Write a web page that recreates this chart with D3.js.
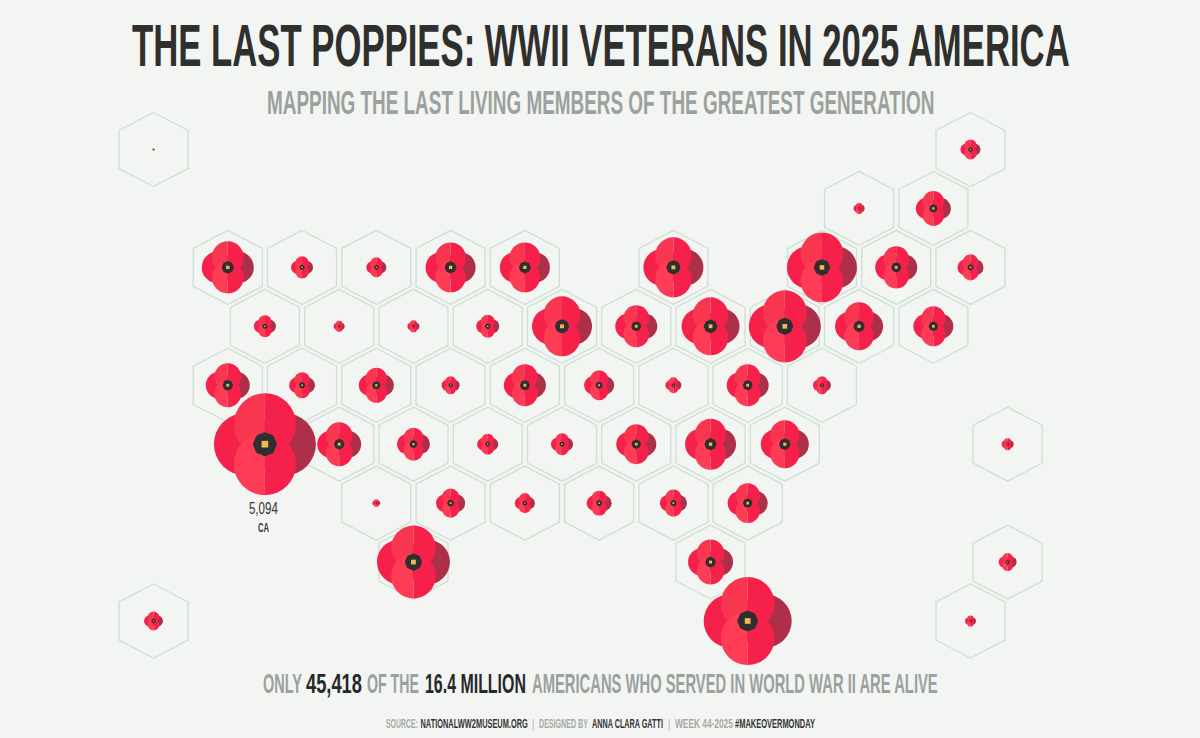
<!DOCTYPE html>
<html>
<head>
    <title>The Last Poppies</title>
    <style>
        body { margin: 0; background: #f3f5f2; }
        svg { display: block; }
        text { font-family: "Liberation Sans Narrow", "Liberation Sans", Arial, sans-serif; font-weight: 700; }
    </style>
</head>
<body>
    <svg id="chart" width="1200" height="738"></svg>
    <script src="https://d3js.org/d3.v7.min.js"></script>
    <script>
        // Tile map: one list per row of the hex grid, null = empty cell
        const stateRows = [
            ["AK", null, null, null, null, null, null, null, null, null, null, "ME"],
            [null, null, null, null, null, null, null, null, null, "VT", "NH"],
            [null, "WA", "ID", "MT", "ND", "MN", null, "MI", null, "NY", "MA", "RI"],
            [null, "OR", "NV", "WY", "SD", "WI", "IN", "OH", "PA", "NJ", "CT"],
            [null, "IL", "UT", "CO", "NE", "IA", "KY", "WV", "VA", "MD"],
            [null, "CA", "AZ", "NM", "KS", "MO", "TN", "NC", "SC", null, null, "PR"],
            [null, null, null, "DC", "OK", "AR", "LA", "MS", "AL"],
            [null, null, null, "TX", null, null, null, "GA", null, null, null, "DE"],
            ["HI", null, null, null, null, null, null, null, "FL", null, null, "VI"]
        ];

        // Living veterans, estimated from the poppy sizes, same shape as stateRows
        const veteranRows = [
            [3, null, null, null, null, null, null, null, null, null, null, 196],
            [null, null, null, null, null, null, null, null, null, 59, 600],
            [null, 1324, 237, 196, 1224, 1224, null, 1763, null, 2399, 864, 331],
            [null, 237, 59, 70, 259, 1763, 864, 1647, 2538, 1128, 783],
            [null, 945, 331, 600, 159, 864, 441, 125, 864, 159],
            [null, 5094, 945, 533, 216, 237, 783, 1274, 1128, null, null, 70],
            [null, null, null, 31, 412, 196, 306, 357, 783],
            [null, null, null, 2609, null, null, null, 991, null, null, null, 159],
            [177, null, null, null, null, null, null, null, 3792, null, null, 59]
        ];

        const labelledStates = ["CA"];

        const titleText = "THE LAST POPPIES: WWII VETERANS IN 2025 AMERICA";
        const subtitleText = "MAPPING THE LAST LIVING MEMBERS OF THE GREATEST GENERATION";
        const statWords = ["ONLY", "45,418", "OF THE", "16.4 MILLION", "AMERICANS WHO SERVED IN WORLD WAR II ARE ALIVE"];
        const footerWords = ["SOURCE:", "NATIONALWW2MUSEUM.ORG", "|", "DESIGNED BY", "ANNA CLARA GATTI", "|", "WEEK 44-2025", "#MAKEOVERMONDAY"];

        // Flatten the tile map into one record per state
        const cells = [];
        stateRows.forEach((row, r) => row.forEach((code, c) => {
            if (code) cells.push({ code: code, row: r, col: c + (r % 2 ? 0.5 : 0), value: veteranRows[r][c] });
        }));

        const svg = d3.select("#chart");

        // Scales
        const x = d3.scaleLinear().domain([0, 11]).range([153.5, 970.5]);
        const y = d3.scaleLinear().domain([0, 8]).range([149.5, 621]);
        const radius = d3.scaleSqrt().domain([0, 5094]).range([0, 51]);

        // Hexagons
        const hw = 34.5, hh = 37, hs = 19;
        const hexPath = d3.line()([[0, -hh], [hw, -hs], [hw, hs], [0, hh], [-hw, hs], [-hw, -hs]]) + "Z";

        svg.append("g")
            .selectAll("path")
            .data(cells)
            .enter().append("path")
            .attr("d", hexPath)
            .attr("transform", d => `translate(${x(d.col)},${y(d.row)})`)
            .attr("fill", "none")
            .attr("stroke", "#cfe0d5")
            .attr("stroke-width", 1.4);

        // Poppies, drawn small to large in a unit box and scaled by value
        const petalR = 0.61, petalOffset = 0.39;
        const halfArc = d3.arc().innerRadius(0).outerRadius(petalR);
        const poppies = svg.append("g")
            .selectAll("g")
            .data(cells.slice().sort((a, b) => d3.ascending(a.value, b.value)))
            .enter().append("g")
            .attr("transform", d => `translate(${x(d.col)},${y(d.row)}) scale(${radius(d.value)})`);

        poppies.append("circle").attr("cx", -petalOffset).attr("r", petalR).attr("fill", "#f5214b");
        poppies.append("circle").attr("cx", petalOffset).attr("r", petalR).attr("fill", "#ae2f48");

        // Top and bottom petals, split into a light and a deep half
        [[-petalOffset, "#f83650"], [petalOffset, "#ff3c55"]].forEach(([cy, light]) => {
            poppies.append("path")
                .attr("d", halfArc({ startAngle: -Math.PI, endAngle: 0 }))
                .attr("transform", `translate(0,${cy})`)
                .attr("fill", light);
            poppies.append("path")
                .attr("d", halfArc({ startAngle: 0, endAngle: Math.PI }))
                .attr("transform", `translate(0,${cy})`)
                .attr("fill", "#f5214b");
        });

        const centerPath = d3.lineRadial()
            .curve(d3.curveCardinalClosed.tension(0.6))
            .angle(d => d * Math.PI / 8)
            .radius(d => d % 2 ? 0.22 : 0.235);
        poppies.append("path").attr("d", centerPath(d3.range(16))).attr("fill", "#2f2f2f");
        poppies.append("rect")
            .attr("x", -0.065).attr("y", -0.065)
            .attr("width", 0.13).attr("height", 0.13)
            .attr("fill", "#f2b857");

        // Squeeze one piece of text between two x positions
        function fitted(str, x0, x1, baseline, size, fill) {
            const t = svg.append("text").attr("font-size", size).attr("fill", fill).text(str);
            const sx = (x1 - x0) / t.node().getComputedTextLength();
            t.attr("transform", `translate(${x0},${baseline}) scale(${sx},1)`);
            return t;
        }

        // Value label for the highlighted state
        cells.filter(d => labelledStates.includes(d.code)).forEach(d => {
            const cx = x(d.col) - 1.5;
            fitted(d3.format(",")(d.value), cx - 14.5, cx + 14.5, y(d.row) + 70, 16, "#333").style("font-weight", 400);
            fitted(d.code, cx - 5.5, cx + 5.5, y(d.row) + 88, 12, "#333");
        });

        const greyText = "#9ba19d", inkText = "#26282a";

        fitted(titleText, 132, 1070, 65.5, 60, "#2f302d");
        fitted(subtitleText, 267, 935, 114, 33, greyText);

        const statEdges = [[263, 302], [306, 362], [367, 419], [425, 526], [532, 938]];
        statWords.forEach((w, i) => fitted(w, statEdges[i][0], statEdges[i][1], 693, 27, i % 2 ? inkText : greyText));

        const footerEdges = [[386, 418], [420.5, 528], [532.5, 534], [539, 588], [592, 663], [668.5, 670], [675, 733], [735, 815]];
        const footerInk = [false, true, false, false, true, false, false, true];
        footerWords.forEach((w, i) => fitted(w, footerEdges[i][0], footerEdges[i][1], 727.5, 12.5, footerInk[i] ? "#333333" : "#a5aaa6"));
    </script>
</body>
</html>
